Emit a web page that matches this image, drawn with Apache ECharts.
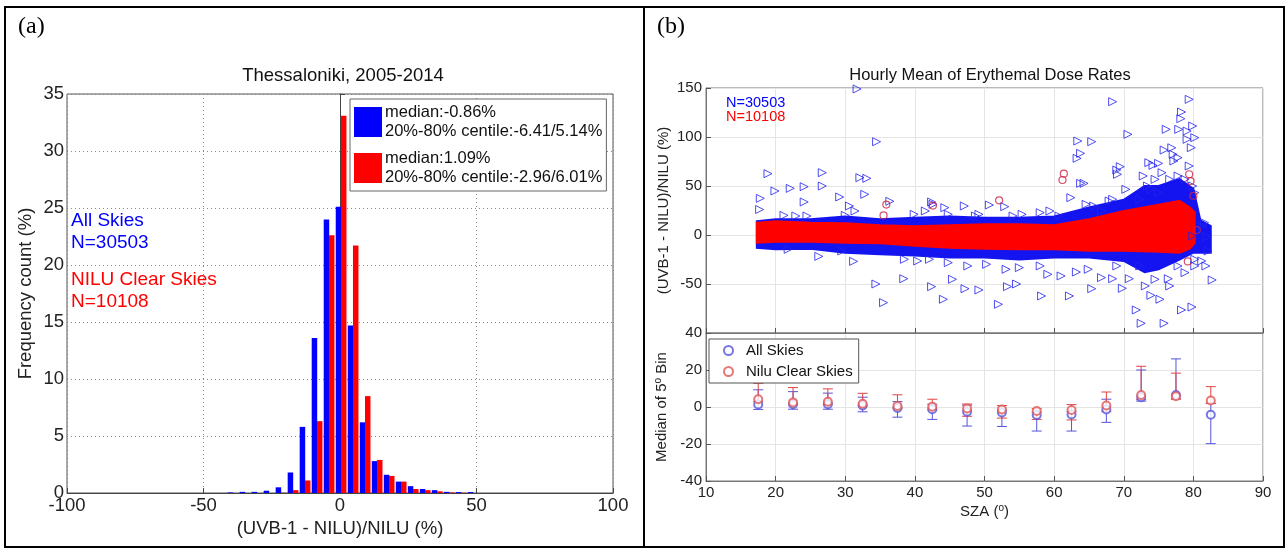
<!DOCTYPE html>
<html>
<head>
<meta charset="utf-8">
<title>UVB-1 vs NILU</title>
<script src="https://cdn.jsdelivr.net/npm/echarts@6/dist/echarts.min.js"></script>
<style>
  html, body { margin: 0; padding: 0; background: #fff; }
  #main { width: 1287px; height: 549px; }
</style>
</head>
<body>
<div id="main"></div>
<script>
// (a) histogram, bin centres in %
var binCenters = [-39.2, -34.8, -30.4, -26.0, -21.6, -17.2, -12.8, -8.4, -4.0, 0.4, 4.8, 9.2, 13.6, 18.0, 22.4, 26.8, 31.2, 35.6, 40.0, 44.4, 48.8];
var allSkiesFreq = [0.05, 0.1, 0.1, 0.2, 0.5, 1.8, 5.8, 13.6, 24.0, 25.1, 14.7, 6.2, 2.8, 1.6, 1.0, 0.6, 0.35, 0.25, 0.1, 0.08, 0.08];
var clearSkiesFreq = [0, 0, 0, 0, 0.02, 0.25, 1.1, 6.3, 22.6, 33.1, 21.7, 8.5, 2.9, 1.5, 1.0, 0.35, 0.25, 0.15, 0.05, 0.02, 0];
var histStats = ['median:-0.86%\n20%-80% centile:-6.41/5.14%', 'median:1.09%\n20%-80% centile:-2.96/6.01%'];

// (b) upper: dense band envelopes + single outliers
var allBandSza = [17.3, 20, 25, 30, 35, 40, 45, 50, 55, 60, 65, 70, 73, 75, 78, 80, 81, 82.5];
var allBandTop = [14, 16, 16, 19, 16, 17.7, 19, 17.7, 17.7, 19, 28, 36, 50, 50, 57, 47, 15, 9];
var allBandBottom = [-13, -14.6, -14, -18, -19.7, -21, -23, -23, -25, -23, -23, -26.5, -38, -35, -25, -18, -18, -18];
var clearBandSza = [17.3, 20, 25, 30, 35, 40, 45, 50, 55, 60, 65, 70, 75, 78, 79.5, 80.2];
var clearBandTop = [12.6, 14, 12.6, 12, 10, 9, 10, 11, 11, 10, 16, 24.5, 31, 35, 28, 23];
var clearBandBottom = [-7.8, -7, -7, -8, -8.5, -11, -13, -14, -14.6, -14.6, -16, -16, -17, -18, -14, -8];

var allOutliers = [
  [31.7, 149], [18.9, 62.6], [17.8, 37.4], [17.7, 26], [19.9, 44.9], [22.1, 47.6], [24.1, 49.3], [26.7, 63.6],
  [26.7, 50], [24.1, 33.7], [29.2, 38.8], [32.1, 58.5], [33.1, 57.8], [34.5, 95.2], [32.8, 41.5], [30.6, 29.6],
  [26.2, -21.8], [31.2, -26.9], [34.4, -50], [35.5, -69], [38.4, -44.6], [36.4, 34.4], [42.4, -52.7], [44.1, -65.6],
  [45.4, -45.2], [47.2, -54.8], [49.2, -56.1], [42.4, 33.7], [42.6, 31.3], [44.3, 27.9], [47.1, 29.6], [50.7, 30.6],
  [52.9, 28.9], [53.3, -52.7], [54.6, -50], [52.0, -70.7], [55.4, 21.1], [58.2, -62.2], [62.2, -62.2], [65.4, -54.8],
  [63.4, 95.9], [65.4, 95.2], [63.8, 83.3], [63.3, 78.2], [63.8, 52.7], [64.3, 52.7], [62.4, 38.1], [68.4, 136],
  [70.6, 102.7], [69.1, 61.9], [69.5, 69.7], [70.3, 46.6], [69.8, -54.4], [70.8, -44.6], [71.8, -76.5], [72.5, -90.1],
  [75.8, -90.1], [73.9, -61.6], [75.2, -65.6], [76.4, -44.6], [78.3, -76.5], [79.8, -73.5], [82.7, -45.9], [79.4, 138.4],
  [78.3, 125.5], [78.2, 118.7], [76.1, 107.8], [77.9, 107.8], [79.1, 106.1], [79.9, 111.2], [80.2, 99.3], [75.8, 86.7],
  [76.9, 89], [77.1, 82.3], [77.8, 78.9], [75.0, 73.1], [73.6, 73.8], [74.2, 71.1], [79.1, 97.6], [79.7, 89.1],
  [77.2, 75.5], [79.4, 70.4], [69.0, 66.3], [72.8, 60.2], [79.9, -1], [81.3, 9.2], [82.1, -16.3], [81.9, -1.7],
  [81.6, 12.6], [81.2, -26.5], [81.8, -31.6], [21.2, 20], [22.9, 19.4], [24.5, 19.4], [30.0, 20], [31.4, 24.5],
  [39.9, 21.1], [41.5, 24.5], [44.8, 21.1], [48.7, 19.4], [49.2, 21.1], [54.1, 19.4], [58.0, 22.8], [59.4, 24.5],
  [60.7, 19.4], [64.6, 31.3], [65.7, 29.6], [66.8, 24.5], [67.9, 34.7], [68.4, 36.4], [21.8, -14.6], [29.5, -16.3],
  [38.5, -24.8], [40.4, -26.5], [42.1, -24.8], [44.8, -28.2], [47.6, -31.6], [50.3, -29.9], [53.1, -35], [55.0, -33.3],
  [58.0, -31.6], [59.1, -40.1], [61.0, -41.8], [63.2, -37.8], [64.9, -35], [66.8, -43.5], [68.4, -44.6], [69.0, -31.6],
  [72.3, -31.6], [73.1, -52], [74.5, -45.2], [76.6, -52], [77.8, -31.6], [78.8, -38.4], [80.2, -31.6], [80.2, -24.8],
  [72.3, 36.4], [73.4, 50], [74.5, 56.8], [75.5, 63.6], [76.6, 56.8], [77.8, 60.2], [78.8, 56.8], [79.9, 50],
  [80.2, 43.2], [73.9, 46.6], [75.0, 43.2]
];
var clearOutliers = [[35.9, 31], [35.5, 20], [42.6, 30], [52.1, 35.4], [61.2, 56.1], [61.4, 62.6], [79.4, 62], [79.6, 55], [80.0, 40], [79.2, -27], [80.5, 5]];

// (b) lower: medians of 5 degree bins with 20-80% range
var binSza = [17.5, 22.5, 27.5, 32.5, 37.5, 42.5, 47.5, 52.5, 57.5, 62.5, 67.5, 72.5, 77.5, 82.5];
var allMed = [1.4, 1.5, 1.5, 0.8, -0.5, -1.2, -2.6, -3.0, -4.3, -4.0, -1.3, 5.3, 6.5, -4.2];
var allLow = [-1.3, -1.2, -1.2, -2.6, -5.5, -6.7, -10.3, -10.5, -13.0, -13.0, -8.3, 3.2, 4.5, -19.8];
var allHigh = [9.3, 8.3, 7.5, 5.3, 2.9, 1.5, 1.0, -1.8, -2.8, -2.5, 4.2, 20.0, 26.0, 2.0];
var clearMed = [4.2, 2.5, 2.8, 1.8, 0.6, 0.2, -0.8, -1.3, -2.2, -1.6, 0.8, 6.5, 5.8, 3.5];
var clearLow = [3.0, 1.3, 1.6, 0.6, -0.6, -1.5, -5.0, -6.0, -6.7, -7.0, -2.5, 4.0, 4.2, 2.0];
var clearHigh = [12.8, 10.5, 9.8, 7.4, 6.6, 4.2, 1.6, 0.8, -0.9, 1.3, 8.1, 22.0, 18.3, 11.0];

var FONT = 'Liberation Sans';
var BLUE = '#0000ff';
var RED = '#ff0000';

function bandRender(xs, tops, bottoms, color) {
    return function (params, api) {
        if (params.dataIndex !== 0) return null;
        var pts = [];
        for (var i = 0; i < xs.length; i++) pts.push(api.coord([xs[i], tops[i]]));
        for (var j = xs.length - 1; j >= 0; j--) pts.push(api.coord([xs[j], bottoms[j]]));
        return { type: 'polygon', shape: { points: pts }, style: { fill: color, stroke: color, lineWidth: 2 } };
    };
}

function errRender(color) {
    return function (params, api) {
        var lo = api.coord([api.value(0), api.value(1)]);
        var hi = api.coord([api.value(0), api.value(2)]);
        var w = 5;
        return {
            type: 'group',
            children: [
                { type: 'line', shape: { x1: lo[0], y1: lo[1], x2: hi[0], y2: hi[1] }, style: { stroke: color, lineWidth: 1 } },
                { type: 'line', shape: { x1: lo[0] - w, y1: lo[1], x2: lo[0] + w, y2: lo[1] }, style: { stroke: color, lineWidth: 1 } },
                { type: 'line', shape: { x1: hi[0] - w, y1: hi[1], x2: hi[0] + w, y2: hi[1] }, style: { stroke: color, lineWidth: 1 } }
            ]
        };
    };
}

var chart = echarts.init(document.getElementById('main'));

var labA = { fontFamily: FONT, fontSize: 18.5, color: '#222' };
var labB = { fontFamily: FONT, fontSize: 15, color: '#222' };
var supRich = {
    a: { fontFamily: FONT, fontSize: 15, color: '#222' },
    s: { fontFamily: FONT, fontSize: 10, color: '#222', verticalAlign: 'top', padding: [0, 0, 8, 0] }
};

var option = {
    animation: false,
    backgroundColor: '#fff',
    title: [
        { text: 'Thessaloniki, 2005-2014', left: 338, top: 61, textAlign: 'center',
          textStyle: { fontFamily: FONT, fontSize: 18.5, fontWeight: 'normal', color: '#111' } },
        { text: 'Hourly Mean of Erythemal Dose Rates', left: 985, top: 62, textAlign: 'center',
          textStyle: { fontFamily: FONT, fontSize: 16.5, fontWeight: 'normal', color: '#111' } }
    ],
    grid: [
        { left: 67, top: 94, width: 546, height: 399, show: true, borderColor: '#555', borderWidth: 1, backgroundColor: '#fff' },
        { left: 706, top: 88, width: 557, height: 245, show: true, borderColor: '#777', borderWidth: 1, backgroundColor: '#fff' },
        { left: 706, top: 333, width: 557, height: 148, show: true, borderColor: '#777', borderWidth: 1, backgroundColor: '#fff' }
    ],
    legend: [
        {
            data: ['hist all', 'hist clear'], orient: 'vertical', left: 350, top: 99,
            itemWidth: 28, itemHeight: 30, itemGap: 8, icon: 'rect',
            padding: [4, 4, 4, 4], borderColor: '#666', borderWidth: 1, backgroundColor: '#fff',
            selectedMode: false,
            formatter: function (name) { return name === 'hist all' ? histStats[0] : histStats[1]; },
            textStyle: { fontFamily: FONT, fontSize: 16.5, lineHeight: 19, color: '#111', padding: [0, 0, 0, -2] }
        },
        {
            data: ['All Skies', 'Nilu Clear Skies'], orient: 'vertical', left: 709, top: 339,
            itemWidth: 9, itemHeight: 9, itemGap: 6, icon: 'emptyCircle',
            padding: [4, 6, 4, 14], borderColor: '#555', borderWidth: 1, backgroundColor: '#fff',
            selectedMode: false,
            textStyle: { fontFamily: FONT, fontSize: 15, color: '#111', padding: [0, 0, 0, 8] }
        }
    ],
    xAxis: [
        {
            gridIndex: 0, type: 'value', min: -100, max: 100, interval: 50,
            name: '(UVB-1 - NILU)/NILU (%)', nameLocation: 'middle', nameGap: 22,
            nameTextStyle: { fontFamily: FONT, fontSize: 18.5, color: '#222' },
            axisLine: { onZero: false, lineStyle: { color: '#444' } },
            axisTick: { inside: true, length: 5, lineStyle: { color: '#444' } },
            axisLabel: Object.assign({ margin: 3 }, labA),
            splitLine: { show: true, lineStyle: { color: '#888', type: [1, 3] } }
        },
        {
            gridIndex: 1, type: 'value', min: 10, max: 90, interval: 10,
            axisLine: { onZero: false, lineStyle: { color: '#777' } },
            axisTick: { inside: true, length: 5, lineStyle: { color: '#555' } },
            axisLabel: { show: false },
            splitLine: { show: true, lineStyle: { color: '#e4e4e4' } }
        },
        {
            gridIndex: 2, type: 'value', min: 10, max: 90, interval: 10,
            name: '{a|SZA (}{s|o}{a|)}', nameLocation: 'middle', nameGap: 22,
            nameTextStyle: { rich: supRich },
            axisLine: { onZero: false, lineStyle: { color: '#777' } },
            axisTick: { inside: true, length: 5, lineStyle: { color: '#555' } },
            axisLabel: Object.assign({ margin: 4 }, labB),
            splitLine: { show: true, lineStyle: { color: '#e4e4e4' } }
        }
    ],
    yAxis: [
        {
            gridIndex: 0, type: 'value', min: 0, max: 35, interval: 5,
            name: 'Frequency count (%)', nameLocation: 'middle', nameGap: 32,
            nameTextStyle: { fontFamily: FONT, fontSize: 18.5, color: '#222' },
            axisLine: { show: true, lineStyle: { color: '#444' } },
            axisTick: { inside: true, length: 5, lineStyle: { color: '#444' } },
            axisLabel: Object.assign({ margin: 3 }, labA),
            splitLine: { show: true, lineStyle: { color: '#888', type: [1, 3] } }
        },
        {
            gridIndex: 1, type: 'value', min: -100, max: 150, interval: 50,
            name: '(UVB-1 - NILU)/NILU (%)', nameLocation: 'middle', nameGap: 35,
            nameTextStyle: { fontFamily: FONT, fontSize: 15, color: '#222' },
            axisLine: { show: true, lineStyle: { color: '#777' } },
            axisTick: { inside: true, length: 5, lineStyle: { color: '#555' } },
            axisLabel: Object.assign({ margin: 4, formatter: function (v) { return v === -100 ? '' : v; } }, labB),
            splitLine: { show: true, lineStyle: { color: '#e4e4e4' } }
        },
        {
            gridIndex: 2, type: 'value', min: -40, max: 40, interval: 20,
            name: '{a|Median of 5}{s|o}{a| Bin}', nameLocation: 'middle', nameGap: 35,
            nameTextStyle: { rich: supRich },
            axisLine: { show: true, lineStyle: { color: '#777' } },
            axisTick: { inside: true, length: 5, lineStyle: { color: '#555' } },
            axisLabel: Object.assign({ margin: 4 }, labB),
            splitLine: { show: true, lineStyle: { color: '#e4e4e4' } }
        }
    ],
    graphic: [
        { type: 'rect', shape: { x: 5, y: 7, width: 1279, height: 540 }, style: { fill: 'none', stroke: '#000', lineWidth: 2 }, z: 100 },
        { type: 'line', shape: { x1: 644, y1: 7, x2: 644, y2: 547 }, style: { stroke: '#000', lineWidth: 2 }, z: 100 },
        { type: 'text', left: 18, top: 15, style: { text: '(a)', font: '24px "Liberation Serif"', fill: '#000' }, z: 100 },
        { type: 'text', left: 657, top: 15, style: { text: '(b)', font: '24px "Liberation Serif"', fill: '#000' }, z: 100 },
        { type: 'text', left: 71, top: 210, style: { text: 'All Skies\nN=30503', font: '19px "Liberation Sans"', fill: BLUE, lineHeight: 22 }, z: 100 },
        { type: 'text', left: 71, top: 269, style: { text: 'NILU Clear Skies\nN=10108', font: '19px "Liberation Sans"', fill: RED, lineHeight: 22 }, z: 100 },
        { type: 'text', left: 726, top: 95, style: { text: 'N=30503', font: '14.5px "Liberation Sans"', fill: BLUE }, z: 100 },
        { type: 'text', left: 726, top: 109, style: { text: 'N=10108', font: '14.5px "Liberation Sans"', fill: RED }, z: 100 }
    ],
    series: [
        {
            name: 'hist all', type: 'bar', xAxisIndex: 0, yAxisIndex: 0,
            barWidth: 5.5, barGap: '-5%', itemStyle: { color: BLUE },
            data: binCenters.map(function (c, i) { return [c, allSkiesFreq[i]]; })
        },
        {
            name: 'hist clear', type: 'bar', xAxisIndex: 0, yAxisIndex: 0,
            barWidth: 5.5, barGap: '-5%', itemStyle: { color: RED },
            data: binCenters.map(function (c, i) { return [c, clearSkiesFreq[i]]; })
        },
        {
            name: 'all band', type: 'custom', xAxisIndex: 1, yAxisIndex: 1, silent: true,
            renderItem: bandRender(allBandSza, allBandTop, allBandBottom, '#1414f0'),
            data: allBandSza.map(function (x, i) { return [x, allBandTop[i]]; })
        },
        {
            name: 'all pts', type: 'scatter', xAxisIndex: 1, yAxisIndex: 1, silent: true,
            symbol: 'triangle', symbolRotate: -90, symbolSize: 8,
            itemStyle: { color: 'rgba(0,0,0,0)', borderColor: '#2222ee', borderWidth: 1 },
            data: allOutliers
        },
        {
            name: 'clear band', type: 'custom', xAxisIndex: 1, yAxisIndex: 1, silent: true,
            renderItem: bandRender(clearBandSza, clearBandTop, clearBandBottom, RED),
            data: clearBandSza.map(function (x, i) { return [x, clearBandTop[i]]; })
        },
        {
            name: 'clear pts', type: 'scatter', xAxisIndex: 1, yAxisIndex: 1, silent: true,
            symbol: 'circle', symbolSize: 7,
            itemStyle: { color: 'rgba(0,0,0,0)', borderColor: '#cc2244', borderWidth: 1.2 },
            data: clearOutliers
        },
        {
            name: 'all err', type: 'custom', xAxisIndex: 2, yAxisIndex: 2, silent: true,
            renderItem: errRender('#5555dd'),
            data: binSza.map(function (x, i) { return [x, allLow[i], allHigh[i]]; })
        },
        {
            name: 'clear err', type: 'custom', xAxisIndex: 2, yAxisIndex: 2, silent: true,
            renderItem: errRender('#e04444'),
            data: binSza.map(function (x, i) { return [x, clearLow[i], clearHigh[i]]; })
        },
        {
            name: 'All Skies', type: 'scatter', xAxisIndex: 2, yAxisIndex: 2, silent: true,
            symbol: 'emptyCircle', symbolSize: 8,
            itemStyle: { color: '#5555dd', borderColor: '#5555dd', borderWidth: 1 },
            data: binSza.map(function (x, i) { return [x, allMed[i]]; })
        },
        {
            name: 'Nilu Clear Skies', type: 'scatter', xAxisIndex: 2, yAxisIndex: 2, silent: true,
            symbol: 'emptyCircle', symbolSize: 8,
            itemStyle: { color: '#e05555', borderColor: '#e05555', borderWidth: 1 },
            data: binSza.map(function (x, i) { return [x, clearMed[i]]; })
        }
    ]
};

chart.setOption(option);
</script>
</body>
</html>
